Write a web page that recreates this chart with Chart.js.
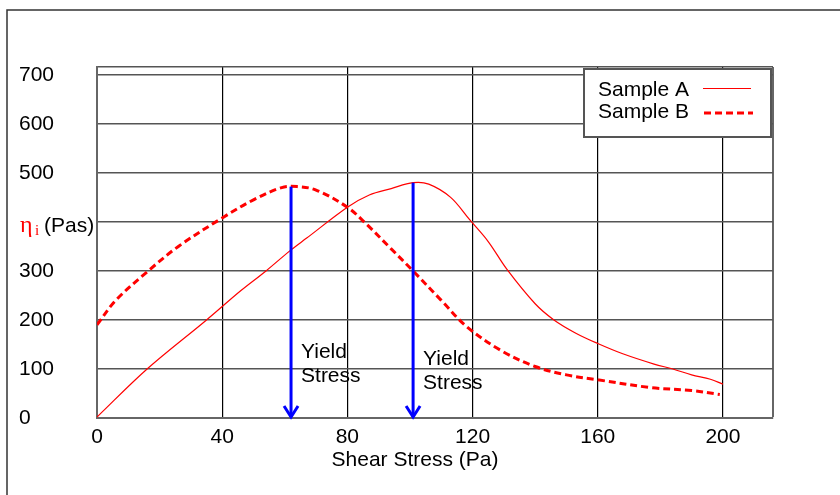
<!DOCTYPE html>
<html>
<head>
<meta charset="utf-8">
<script src="https://cdn.jsdelivr.net/npm/chart.js@4.4.1/dist/chart.umd.min.js"></script>
<style>
  html, body { margin: 0; padding: 0; background: #fff; }
  #wrap { width: 840px; height: 495px; }
</style>
</head>
<body>
<div id="wrap"><canvas id="chart" width="840" height="495"></canvas></div>
<script>
// data (Shear Stress in Pa, viscosity in Pas)
const sampleAX = [0, 16, 35, 46, 54, 62, 67, 80, 87, 94, 101, 106, 113, 119, 125, 131, 140, 146, 153, 160, 168, 178, 184, 190, 196, 200];
const sampleAY = [2, 100, 200, 260, 300, 343, 367, 430, 455, 468, 480, 477, 450, 405, 360, 303, 233, 200, 173, 152, 131, 110, 100, 88, 79, 69];
const sampleBX = [0, 6, 16, 26, 40, 50, 59, 64, 70, 80, 86, 94, 101, 110, 118, 129, 140, 150, 160, 177, 190, 199];
const sampleBY = [190, 240, 298, 350, 408, 445, 470, 472, 465, 430, 396, 345, 300, 240, 187, 138, 105, 88, 78, 62, 56, 48];
const xTicks = [0, 40, 80, 120, 160, 200];
const yTicks = [0, 100, 200, 300, 400, 500, 600, 700];
const xMax = 216;
const yMax = 716;
const yieldX = [62, 101];
const yieldTop = [472, 480];

const FONT = "'Liberation Sans', Arial, sans-serif";

function toPoints(xs, ys) {
    return xs.map((x, i) => ({ x: x, y: ys[i] }));
}

const decorations = {
    id: 'decorations',
    beforeDraw(chart) {
        const ctx = chart.ctx;
        ctx.save();
        ctx.strokeStyle = '#333';
        ctx.lineWidth = 1.5;
        ctx.beginPath();
        ctx.moveTo(7, 495);
        ctx.lineTo(7, 10);
        ctx.lineTo(840, 10);
        ctx.stroke();
        ctx.restore();
    },
    afterDatasetsDraw(chart) {
        const ctx = chart.ctx;
        const xs = chart.scales.x, ys = chart.scales.y;
        const base = ys.getPixelForValue(0);
        ctx.save();
        ctx.strokeStyle = '#0000ff';
        ctx.lineWidth = 3;
        yieldX.forEach((v, i) => {
            const px = xs.getPixelForValue(v);
            ctx.beginPath();
            ctx.moveTo(px, ys.getPixelForValue(yieldTop[i]));
            ctx.lineTo(px, base - 1);
            ctx.stroke();
            ctx.beginPath();
            ctx.moveTo(px - 7, base - 12);
            ctx.lineTo(px, base - 1);
            ctx.lineTo(px + 7, base - 12);
            ctx.stroke();
        });
        // "Yield Stress" notes
        ctx.fillStyle = '#000';
        ctx.font = '21px ' + FONT;
        ctx.textAlign = 'left';
        ctx.textBaseline = 'alphabetic';
        const labelY = [358, 365];
        yieldX.forEach((v, i) => {
            const px = xs.getPixelForValue(v) + 10;
            ctx.fillText('Yield', px, labelY[i]);
            ctx.fillText('Stress', px, labelY[i] + 24);
        });
        ctx.restore();
    },
    afterDraw(chart) {
        const ctx = chart.ctx;
        const area = chart.chartArea;
        const xs = chart.scales.x;
        ctx.save();
        // legend box
        const lx = 584, ly = area.top + 2, lw = 187, lh = 68;
        ctx.fillStyle = '#fff';
        ctx.fillRect(lx, ly, lw, lh);
        ctx.strokeStyle = '#555';
        ctx.lineWidth = 2;
        ctx.strokeRect(lx, ly, lw, lh);
        ctx.fillStyle = '#000';
        ctx.font = '21px ' + FONT;
        ctx.textBaseline = 'middle';
        ctx.textAlign = 'left';
        ctx.fillText('Sample A', 598, 90);
        ctx.fillText('Sample B', 598, 112);
        ctx.strokeStyle = '#ff0000';
        ctx.lineWidth = 1.2;
        ctx.beginPath();
        ctx.moveTo(703, 88.5);
        ctx.lineTo(751, 88.5);
        ctx.stroke();
        ctx.lineWidth = 3;
        ctx.setLineDash([7, 4]);
        ctx.beginPath();
        ctx.moveTo(704, 113);
        ctx.lineTo(753, 113);
        ctx.stroke();
        ctx.setLineDash([]);

        // y axis title (sits where the 400 label would be)
        const ty = 232;
        ctx.textBaseline = 'alphabetic';
        ctx.fillStyle = '#ff0000';
        ctx.font = '24px "Liberation Serif", "DejaVu Serif", serif';
        ctx.fillText('\u03b7', 20, ty);
        ctx.font = '15px "Liberation Serif", "DejaVu Serif", serif';
        ctx.fillText('i', 35, ty + 3);
        ctx.fillStyle = '#000';
        ctx.font = '21px ' + FONT;
        ctx.fillText('(Pas)', 44, ty);

        // x axis title
        ctx.textAlign = 'center';
        ctx.textBaseline = 'middle';
        const cx = (xs.getPixelForValue(0) + xs.getPixelForValue(200)) / 2 + 5;
        ctx.fillText('Shear Stress (Pa)', cx, 460);
        ctx.restore();
    }
};

const ctx = document.getElementById('chart').getContext('2d');
new Chart(ctx, {
    type: 'line',
    data: {
        datasets: [{
            label: 'Sample A',
            data: toPoints(sampleAX, sampleAY),
            borderColor: '#ff0000',
            borderWidth: 1.2,
            pointRadius: 0,
            tension: 0.35,
            fill: false
        }, {
            label: 'Sample B',
            data: toPoints(sampleBX, sampleBY),
            borderColor: '#ff0000',
            borderWidth: 3,
            borderDash: [7, 4],
            pointRadius: 0,
            tension: 0.35,
            fill: false
        }]
    },
    options: {
        responsive: false,
        animation: false,
        events: [],
        layout: { padding: { left: 19, top: 67, right: 67, bottom: 0 } },
        plugins: { legend: { display: false }, tooltip: { enabled: false } },
        scales: {
            x: {
                type: 'linear',
                min: 0,
                max: xMax,
                afterFit: (s) => { s.height = 77; },
                afterBuildTicks: (s) => { s.ticks = xTicks.concat([xMax]).map(v => ({ value: v })); },
                ticks: {
                    autoSkip: false,
                    maxRotation: 0,
                    padding: 7,
                    color: '#000',
                    font: { family: FONT, size: 21 },
                    callback: (v) => xTicks.includes(v) ? v : ''
                },
                grid: {
                    drawTicks: false,
                    color: (c) => c.tick && c.tick.value === xMax ? '#666' : '#000',
                    lineWidth: (c) => c.tick && c.tick.value === xMax ? 2 : 1.2
                },
                border: { color: '#666', width: 2 }
            },
            y: {
                min: 0,
                max: yMax,
                afterFit: (s) => { s.width = 78; },
                afterBuildTicks: (s) => { s.ticks = yTicks.concat([yMax]).map(v => ({ value: v })); },
                ticks: {
                    autoSkip: false,
                    crossAlign: 'far',
                    color: '#000',
                    font: { family: FONT, size: 21 },
                    callback: (v) => (yTicks.includes(v) && v !== 400) ? v : ''
                },
                grid: {
                    drawTicks: false,
                    color: '#555',
                    lineWidth: 1.5
                },
                border: { color: '#666', width: 2 }
            }
        }
    },
    plugins: [decorations]
});
</script>
</body>
</html>
